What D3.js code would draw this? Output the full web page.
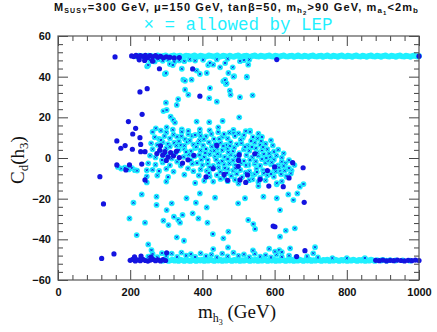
<!DOCTYPE html>
<html>
<head>
<meta charset="utf-8">
<script src="https://cdn.jsdelivr.net/npm/d3@7"></script>
<style>
  body { margin: 0; background: #fff; }
  svg { display: block; }
</style>
</head>
<body>
<svg id="svg"></svg>
<script>
// tick values
const xMajor = [0, 200, 400, 600, 800, 1000];
const xMinor = [40, 80, 120, 160, 240, 280, 320, 360, 440, 480, 520, 560, 640, 680, 720, 760, 840, 880, 920, 960];
const yMajor = [-60, -40, -20, 0, 20, 40, 60];
const yMinor = [-56, -52, -48, -44, -36, -32, -28, -24, -16, -12, -8, -4, 4, 8, 12, 16, 24, 28, 32, 36, 44, 48, 52, 56];

// points allowed by LEP: [m_h3, C_d(h3)]
const allowedBandHi = [
    [218,49.9],[224,50.3],[232,50.1],[238,49.8],[245,50.0],[251,50.3],[258,50.2],[264,49.8],[270,50.0],[276,50.4],
    [281,50.1],[287,49.9],[292,50.2],[298,50.4],[304,50.0],[310,49.8],[315,50.2],[321,50.4],[326,49.9],[332,50.1],
    [338,50.3],[343,49.8],[349,50.0],[355,50.3],[361,50.2],[366,49.8],[372,50.1],[378,50.4],[384,50.0],[389,49.9],
    [395,50.3],[401,50.1],[407,49.8],[412,50.0],[418,50.4],[424,50.2],[430,49.9],[435,50.1],[441,50.4],[447,49.8],
    [453,50.0],[458,50.3],[464,50.1],[470,49.9],[476,50.3],[481,50.0],[487,49.8],[493,50.2],[499,50.4],[504,50.0],
    [510,49.8],[516,50.2],[522,50.3],[527,50.0],[533,49.8],[539,50.2],[545,50.4],[550,50.0],[556,49.9],[562,50.3],
    [568,50.1],[573,49.8],[579,50.2],[585,50.4],[591,50.0],[596,49.9],[602,50.3],[608,50.1],[614,49.8],[619,50.2],
    [625,50.4],[631,50.0],[637,49.9],[642,50.2],[648,50.3],[654,49.8],[660,50.1],[665,50.4],[671,50.0],[677,49.9],
    [683,50.3],[688,50.1],[694,49.8],[700,50.2],[706,50.4],[711,50.0],[717,49.9],[723,50.2],[729,50.3],[734,49.8],
    [740,50.1],[746,50.4],[752,50.0],[757,49.9],[763,50.3],[769,50.1],[775,49.8],[780,50.2],[786,50.4],[792,50.0],
    [798,49.9],[803,50.3],[809,50.1],[815,49.8],[821,50.2],[826,50.4],[832,50.0],[838,49.9],[844,50.3],[849,50.1],
    [855,49.8],[861,50.2],[867,50.4],[872,50.0],[878,49.9],[884,50.3],[890,50.1],[895,49.8],[901,50.2],[907,50.4],
    [913,50.0],[918,49.9],[924,50.3],[930,50.1],[936,49.8],[941,50.2],[947,50.4],[953,50.0],[959,49.9],[964,50.3],
    [970,50.1],[976,49.8],[982,50.2],[987,50.4],[993,50.0],[997,49.9],[1000,50.2]
];
const allowedBelowHi = [
    [255,48.2],[268,47.5],[278,48.6],[290,47.8],[305,48.4],[322,47.2],[336,48.0],[350,47.6],[365,48.5],[380,47.9],
    [402,48.3],[440,48.5],[470,48.8],[515,48.1],[530,48.4]
];
const allowedBandLo = [
    [290,-50.5],[295,-50.2],[301,-50.0],[306,-50.6],[312,-50.3],[317,-50.0],[323,-50.5],[328,-50.2],[334,-50.6],[339,-50.0],
    [345,-50.3],[350,-50.6],[356,-50.1],[361,-50.4],[367,-50.6],[372,-50.0],[378,-50.3],[383,-50.6],[389,-50.1],[394,-50.4],
    [400,-50.0],[405,-50.6],[411,-50.2],[416,-50.5],[422,-50.0],[427,-50.3],[433,-50.6],[438,-50.1],[444,-50.4],[449,-50.0],
    [455,-50.6],[460,-50.2],[466,-50.5],[471,-50.0],[477,-50.3],[482,-50.6],[488,-50.1],[493,-50.4],[499,-50.0],[504,-50.6],
    [510,-50.2],[515,-50.5],[521,-50.0],[526,-50.3],[532,-50.6],[537,-50.1],[543,-50.4],[548,-50.0],[554,-50.6],[559,-50.2],
    [565,-50.5],[570,-50.0],[576,-50.3],[581,-50.6],[587,-50.1],[592,-50.4],[598,-50.0],[603,-50.6],[609,-50.2],[614,-50.5],
    [620,-50.0],[625,-50.3],[631,-50.6],[636,-50.1],[642,-50.4],[647,-50.0],[653,-50.6],[658,-50.2],[664,-50.5],[669,-50.0],
    [675,-50.3],[680,-50.6],[686,-50.1],[691,-50.4],[697,-50.0],[702,-50.6],[708,-50.2],[713,-50.5],[719,-50.0],[724,-50.3],
    [730,-50.6],[735,-50.1],[741,-50.4],[746,-50.0],[752,-50.6],[757,-50.2],[763,-50.5],[768,-50.0],[774,-50.3],[779,-50.6],
    [785,-50.1],[790,-50.4],[796,-50.0],[801,-50.6],[807,-50.2],[812,-50.5],[818,-50.0],[823,-50.3],[829,-50.6],[834,-50.1],
    [840,-50.4],[845,-50.0],[851,-50.6],[856,-50.2],[862,-50.5],[867,-50.0],[873,-50.3],[878,-50.6],[884,-50.2],[895,-50.4],
    [900,-50.1],[910,-50.5],[920,-50.2],[935,-50.4],[955,-50.3],[975,-50.5]
];
const allowedAboveLo = [
    [250,-48.5],[262,-47.2],[275,-48.8],[288,-46.8],[300,-48.2],[315,-47.0],[330,-48.6],[342,-46.5],[355,-48.0],[368,-47.3],
    [380,-48.7],[395,-46.9],[410,-48.3],[425,-47.5],[440,-48.9],[455,-47.0],[470,-48.4],[486,-46.6],[500,-48.1],[515,-47.4],
    [530,-48.8],[545,-47.1],[560,-48.5],[575,-47.8],[590,-48.9],[605,-47.5],[620,-48.6],[640,-48.0],[660,-48.8],[690,-48.4],
    [720,-48.9],[760,-49.2],[800,-49.3],[850,-49.2],
    [259,-45.3],[250,-42.5],[329,-39.0],[349,-40.7],[458,-39.5],[472,-36.2],[471,-44.0],[601,-46.0],[613,-45.3],[643,-44.4],
    [712,-43.9],[707,-46.9],[615,-38.7],[430,-44.8],[540,-45.5],[585,-44.6],[620,-46.3]
];
const allowedScatter = [
    // upper region
    [247,45.1],[250,45.7],[296,41.3],[299,41.7],[310,46.2],[318,45.7],[343,43.9],[347,38.5],[352,38.0],[370,38.5],
    [384,43.0],[393,41.3],[412,41.8],[416,45.7],[421,46.7],[430,45.9],[449,44.6],[463,46.7],[472,41.8],[484,44.6],
    [488,40.2],[504,47.6],[523,39.7],[527,45.9],[458,37.8],[465,36.4],[476,33.1],[478,31.1],[504,29.9],[539,30.8],
    [352,33.6],[361,31.1],[421,34.4],[419,29.4],[440,27.7],[333,28.9],[329,26.1],[299,27.2],[292,23.1],[301,23.6],
    [312,20.3],[319,18.7],[324,17.4],[384,17.9],[419,17.6],[456,18.2],[502,20.0],[343,14.1],[361,11.8],[393,14.1],
    [444,15.1],[486,13.8],[532,13.4],[271,14.6],[301,15.1],[463,38.4],[467,36.7],[486,40.0],[523,40.0],
    // left chain
    [166,-4.4],[175,-5.2],[185,-4.8],[196,-5.6],[205,-5.0],[213,-6.0],[219,-6.2],[246,-6.0],[246,-9.0],[246,-12.0],
    [232,-17.9],[209,-22.0],[198,-29.7],[241,-31.8],[218,-37.9],
    // lower region
    [273,-19.0],[273,-23.1],[292,-30.8],[301,-25.6],[306,-33.0],[315,-22.3],[321,-28.9],[333,-30.5],[338,-31.8],[345,-28.0],
    [356,-19.8],[373,-27.2],[389,-29.7],[414,-31.8],[429,-37.4],[435,-19.5],[412,-24.3],[382,-22.0],[393,-17.4],[499,-22.3],
    [518,-19.8],[527,-30.5],[541,-32.5],[546,-34.9],[569,-19.0],[606,-19.8],[615,-25.6],[631,-35.7],[638,-17.9],[652,-20.7],
    [656,-34.6],[663,-17.4],[670,-14.1],[680,-12.8],[555,-13.8],[539,-10.5],[606,-12.9],[633,-9.2],[647,-6.2],[620,-1.8],
    // central cluster
    [262,12.8],[285,13.5],[300,12.6],[318,13.9],[343,12.9],[361,13.3],[393,12.4],[420,13.6],[444,12.7],[486,12.2],[532,12.9],
    [268,10.2],[280,9.4],[295,10.8],[310,9.7],[330,10.5],[352,9.2],[372,10.9],[398,9.8],[410,10.6],[432,9.3],[455,10.4],
    [470,9.6],[490,10.8],[512,9.9],[540,10.3],
    [258,7.2],[275,6.5],[290,7.8],[305,6.8],[322,7.5],[340,6.3],[358,7.9],[375,6.6],[388,7.4],[402,6.2],[418,7.7],
    [436,6.9],[450,7.5],[465,6.4],[478,7.8],[495,6.7],[508,7.3],[525,6.1],[545,7.6],[560,6.5],[575,7.0],
    [262,4.3],[282,3.6],[300,4.8],[335,3.9],[350,4.6],[368,3.3],[380,4.9],[395,3.7],[410,4.4],[425,3.2],[440,4.7],
    [455,3.8],[470,4.5],[485,3.4],[515,4.2],[530,3.6],[548,4.8],[565,3.9],[580,4.3],[598,3.1],
    [255,1.2],[348,0.6],[362,1.7],[378,0.9],[392,1.5],[405,0.4],[420,1.8],[435,0.7],[448,1.3],[462,0.5],[478,1.6],
    [492,0.8],[522,1.4],[538,0.3],[555,1.1],[570,1.9],[588,0.6],[605,1.2],[620,0.2],
    [250,-2.6],[270,-3.3],[290,-2.2],[340,-3.7],[385,-2.4],[400,-3.5],[415,-2.8],[430,-3.9],[445,-2.3],[460,-3.2],
    [475,-2.7],[490,-3.6],[508,-2.5],[528,-3.4],[545,-2.9],[560,-3.8],[575,-2.4],[590,-3.1],[610,-3.7],[630,-2.6],
    [262,-5.8],[280,-6.4],[300,-5.3],[320,-6.7],[395,-5.6],[412,-6.3],[428,-5.2],[450,-6.8],[470,-5.5],[485,-6.2],
    [505,-5.9],[530,-6.6],[550,-5.4],[568,-6.1],[585,-6.9],[600,-5.7],[615,-6.5],[635,-5.3],
    [275,-8.6],[305,-9.3],[350,-8.2],[420,-9.1],[440,-8.4],[460,-9.6],[480,-8.8],[510,-9.4],[540,-8.3],[560,-9.7],
    [580,-8.5],[598,-9.2],[633,-8.9],
    [300,-11.6],[380,-12.3],[470,-11.4],[500,-12.6],[555,-11.8],[606,-12.4],
    [392,8.6],[408,2.5],[426,5.6],[442,2.1],[458,5.9],[472,2.8],[488,5.1],[502,2.4],[518,5.5],[535,8.4],[552,2.6],
    [568,5.3],[585,2.2],[595,6.2],[415,-1.0],[438,-0.8],[455,-1.6],[470,-0.5],[485,-1.2],[500,-0.3],[515,-1.5],
    [532,-0.9],[548,-1.7],[565,-0.6],[582,-1.3],[598,-0.8],[612,-4.7],[625,-3.9],[640,-5.0],[420,-4.5],[445,-4.7],
    [468,-7.4],[495,-7.8],[520,-7.2],[545,-7.9],[570,-7.5],[590,-7.8],[320,11.5],[335,8.2],[310,5.6],[325,2.3],
    [350,6.1],[365,8.6],[380,11.3],[460,11.7],[500,12.1],[515,11.2],[553,9.6],[565,10.4],[590,8.7],[610,4.1],
    [625,2.3],[640,-1.1],[655,-3.5],[288,-1.0],[310,-3.6],[330,-1.8],[360,-5.1],[372,-2.8],
    [383,5.5],[397,-0.9],[404,9.2],[418,-7.4],[433,3.6],[447,9.4],[462,-5.0],[476,6.0],[491,-5.1],[506,9.0],
    [521,-3.6],[537,5.4],[551,-6.9],[563,8.3],[577,0.0],[592,-2.2],[603,-6.6],[618,-8.0],[628,-6.2],[645,-7.6],
    [395,10.9],[425,11.8],[475,12.5],[520,13.2],[555,12.0],[270,0.3],[285,8.8],[298,1.8],[315,-0.3],[328,6.1],
    [342,10.7],[355,3.0],[368,-1.0],[375,-6.5],[390,-8.6],[405,-11.2],[430,-11.6],[450,-10.3],[490,-10.7],[530,-10.9],
    [575,-11.0],[620,-11.5]
];

// points excluded by LEP
const excludedBands = [
    [204,50.2],[210,49.9],[216,50.5],[222,49.8],[228,50.3],[235,50.0],[242,50.5],[248,49.4],[255,50.3],[262,49.8],
    [270,50.4],[276,49.6],[284,50.0],[292,49.3],[300,49.8],[310,49.5],[322,49.2],[336,49.4],[225,48.3],[240,48.0],
    [262,47.6],[1000,50.1],[158,49.7],
    [200,-50.3],[207,-49.9],[214,-50.6],[221,-50.1],[228,-50.5],[235,-49.9],[242,-50.4],[249,-50.7],[256,-50.2],[263,-49.9],
    [270,-50.5],[277,-50.1],[284,-50.6],[291,-50.0],[298,-50.4],[212,-48.6],[230,-48.2],[258,-48.7],[301,-46.6],[661,-48.5],
    [880,-50.3],[890,-50.5],[900,-50.2],[910,-50.6],[920,-50.3],[930,-50.5],[940,-50.2],[950,-50.4],[960,-50.6],[970,-50.3],
    [980,-50.5],[990,-50.2],[1000,-50.4]
];
const excludedScatter = [
    [281,43.9],[373,43.8],[227,32.5],[247,34.1],[393,30.4],[233,21.5],[195,17.9],[606,48.4],[215,14.6],[207,11.8],
    [227,10.0],[163,8.4],[186,6.1],[174,4.8],[206,4.3],[229,6.7],[229,3.1],[241,3.1],
    [163,-3.4],[198,-3.4],[188,-5.9],[232,-3.0],[241,-10.8],[126,-22.6],[116,-9.2],[121,-49.4],[155,-47.2],[684,-45.6],
    [601,-33.8],[596,-33.5],[682,-21.8],[624,-14.1],[584,-13.8],[650,-2.3],[679,-4.8],[504,-10.8],
    [274,2.2],[282,3.8],[290,1.4],[296,3.1],[305,0.5],[312,2.6],[320,1.1],[328,3.3],[336,0.2],[300,-1.2],
    [360,-0.9],[376,1.3],[430,-5.2],[499,-4.1],[500,-1.2],[502,1.5],[525,-8.3],[560,-10.5],[580,-6.2],[600,-4.4],
    [640,-9.8],[440,6.2],[460,-8.1],[545,2.1],[410,-9.3],[284,6.0],[345,-2.5],[470,-11.0],[520,-12.0]
];

const blue = "#1414e0";
const cyan = "#1ff0ff";
const crossPath = "M-1.1,-1.1L1.1,1.1M-1.1,1.1L1.1,-1.1";

const W = 437, H = 332;
const svg = d3.select("#svg").attr("width", W).attr("height", H);

const x = d3.scaleLinear().domain([0, 1000]).range([58, 419]);
const y = d3.scaleLinear().domain([-60, 60]).range([280, 36]);

const plot = svg.append("g");
const at = d => `translate(${x(d[0])},${y(d[1])})`;

// dense bands: the overlapping cyan discs bury the blue crosses
const bands = allowedBandHi.concat(allowedBandLo);
plot.selectAll("path.bandx")
    .data(bands)
    .join("path")
    .attr("class", "bandx")
    .attr("transform", at)
    .attr("d", crossPath)
    .attr("stroke", blue)
    .attr("stroke-width", 0.9);
plot.selectAll("circle.band")
    .data(bands)
    .join("circle")
    .attr("class", "band")
    .attr("transform", at)
    .attr("r", 2.9)
    .attr("fill", cyan);

// other allowed points: cyan disc with a small blue cross
const allowed = allowedBelowHi.concat(allowedAboveLo, allowedScatter);
const marks = plot.selectAll("g.ok")
    .data(allowed)
    .join("g")
    .attr("class", "ok")
    .attr("transform", at);
marks.append("circle")
    .attr("r", 2.9)
    .attr("fill", cyan);
marks.append("path")
    .attr("d", crossPath)
    .attr("stroke", blue)
    .attr("stroke-width", 0.9);

// excluded points: solid blue
plot.selectAll("circle.no")
    .data(excludedBands.concat(excludedScatter))
    .join("circle")
    .attr("class", "no")
    .attr("cx", d => x(d[0]))
    .attr("cy", d => y(d[1]))
    .attr("r", 2.6)
    .attr("fill", blue);

// axes: ticks point inward on all four sides
const axisColor = "#444";
const tickFont = "'Liberation Sans', Arial, sans-serif";

const addAxis = function(axis, tx, ty, labels) {
    const g = svg.append("g").attr("transform", `translate(${tx},${ty})`).call(axis);
    g.select(".domain").remove();
    g.selectAll("line").attr("stroke", axisColor).attr("stroke-width", 1);
    g.selectAll("text")
        .attr("font-family", tickFont)
        .attr("font-size", 11)
        .attr("font-weight", "bold")
        .attr("fill", "#111");
    if (!labels) g.selectAll("text").remove();
    return g;
};

addAxis(d3.axisBottom(x).tickValues(xMajor).tickSize(-10).tickPadding(8).tickFormat(d3.format("d")), 0, 280, true);
addAxis(d3.axisBottom(x).tickValues(xMinor).tickSize(-5).tickFormat(""), 0, 280, false);
addAxis(d3.axisTop(x).tickValues(xMajor).tickSize(-10), 0, 36, false);
addAxis(d3.axisTop(x).tickValues(xMinor).tickSize(-5), 0, 36, false);
addAxis(d3.axisLeft(y).tickValues(yMajor).tickSize(-10).tickPadding(7).tickFormat(d3.format("d")), 58, 0, true);
addAxis(d3.axisLeft(y).tickValues(yMinor).tickSize(-5).tickFormat(""), 58, 0, false);
addAxis(d3.axisRight(y).tickValues(yMajor).tickSize(-10), 419, 0, false);
addAxis(d3.axisRight(y).tickValues(yMinor).tickSize(-5), 419, 0, false);

svg.append("rect")
    .attr("x", 58).attr("y", 36)
    .attr("width", 361).attr("height", 244)
    .attr("fill", "none")
    .attr("stroke", "#555")
    .attr("stroke-width", 1.2);

// title
const title = svg.append("text")
    .attr("x", 236).attr("y", 11)
    .attr("text-anchor", "middle")
    .attr("font-family", tickFont)
    .attr("font-size", 11)
    .attr("font-weight", "bold")
    .attr("textLength", 364)
    .attr("lengthAdjust", "spacing")
    .attr("fill", "#111");
const sub = (t, s, dy, size) => t.append("tspan").attr("dy", dy).attr("font-size", size).text(s);
sub(title, "M", 0, 11);
sub(title, "SUSY", 2, 7);
sub(title, "=300 GeV, μ=150 GeV, tanβ=50, m", -2, 11);
sub(title, "h", 2, 8);
sub(title, "2", 1.5, 6);
sub(title, ">90 GeV, m", -3.5, 11);
sub(title, "a", 2, 8);
sub(title, "1", 1.5, 6);
sub(title, "<2m", -3.5, 11);
sub(title, "b", 2, 8);

svg.append("text")
    .attr("x", 238).attr("y", 30)
    .attr("text-anchor", "middle")
    .attr("font-family", "'Liberation Mono', 'Courier New', monospace")
    .attr("font-size", 17.5)
    .attr("fill", cyan)
    .text("× = allowed by LEP");

// axis titles
const serif = "'Liberation Serif', 'Times New Roman', serif";
const xl = svg.append("text")
    .attr("x", 237).attr("y", 318)
    .attr("text-anchor", "middle")
    .attr("font-family", serif)
    .attr("font-size", 19)
    .attr("fill", "#111");
sub(xl, "m", 0, 19);
sub(xl, "h", 4, 12);
sub(xl, "3", 3, 8);
sub(xl, " (GeV)", -7, 19);

const yl = svg.append("text")
    .attr("transform", "translate(24,160) rotate(-90)")
    .attr("text-anchor", "middle")
    .attr("font-family", serif)
    .attr("font-size", 19)
    .attr("fill", "#111");
sub(yl, "C", 0, 19);
sub(yl, "d", 4, 13);
sub(yl, "(h", -4, 19);
sub(yl, "3", 4, 13);
sub(yl, ")", -4, 19);
</script>
</body>
</html>
